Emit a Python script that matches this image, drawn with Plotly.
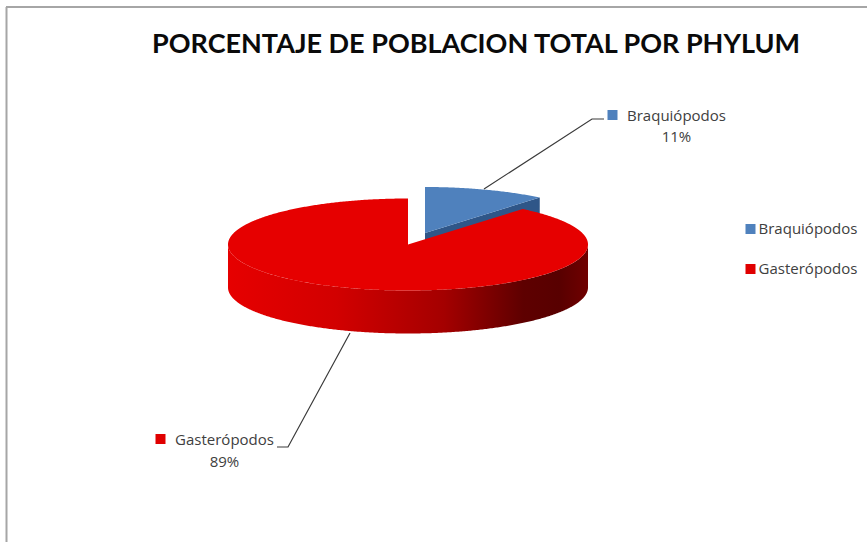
import numpy as np
import plotly.graph_objects as go

# Chart content
TITLE = "PORCENTAJE DE POBLACION TOTAL POR PHYLUM"
categories = ["Braquiópodos", "Gasterópodos"]
shares = [11, 89]

# Colours
BLUE_TOP = "#4f81bd"
BLUE_CUT = "#2f5688"
RED_TOP = "#e60000"
TEXT = "#404040"
FRAME = "#a6a6a6"
RED_SIDE_SCALE = [
    [0.00, "#e60000"],
    [0.30, "#d20000"],
    [0.60, "#a40000"],
    [0.82, "#5e0000"],
    [0.92, "#580000"],
    [1.00, "#700000"],
]

# Layout of the tilted pie, in canvas units
RX, RY, DEPTH = 180, 46, 43
RED_CENTRE = (408, 244.5)
BLUE_CENTRE = (425, 233)

LABEL_FONT = "Open Sans"
TITLE_FONT = "Lato"


def rim(centre, start, stop, drop=0):
    """Points along the ellipse; angles are degrees clockwise from the top."""
    theta = np.radians(np.linspace(start, stop, max(int(abs(stop - start)) * 2, 2)))
    return (centre[0] + RX * np.sin(theta), centre[1] - RY * np.cos(theta) + drop)


def wedge(centre, start, stop):
    xs, ys = rim(centre, start, stop)
    return np.r_[centre[0], xs, centre[0]], np.r_[centre[1], ys, centre[1]]


split = 360 * shares[0] / sum(shares)
fig = go.Figure()

# Cut face of the pulled-out blue slice, behind everything else
tip_x, tip_y = rim(BLUE_CENTRE, split, split)
fig.add_trace(go.Scatter(
    x=[BLUE_CENTRE[0], tip_x[0], tip_x[0], BLUE_CENTRE[0], BLUE_CENTRE[0]],
    y=[BLUE_CENTRE[1], tip_y[0], tip_y[0] + DEPTH, BLUE_CENTRE[1] + DEPTH, BLUE_CENTRE[1]],
    fill="toself", fillcolor=BLUE_CUT, mode="none", hoverinfo="skip",
))

# Blue top face
bx, by = wedge(BLUE_CENTRE, 0, split)
fig.add_trace(go.Scatter(x=bx, y=by, fill="toself", fillcolor=BLUE_TOP, mode="none",
                         name=categories[0]))

# Front wall of the red slice, shaded from left to right
top_x, top_y = rim(RED_CENTRE, 90, 270)
low_x, low_y = rim(RED_CENTRE, 270, 90, DEPTH)
fig.add_trace(go.Scatter(
    x=np.r_[top_x, low_x, top_x[0]], y=np.r_[top_y, low_y, top_y[0]],
    fill="toself", mode="none", hoverinfo="skip",
    fillgradient=dict(type="horizontal", colorscale=RED_SIDE_SCALE),
))

# Red top face
rx_, ry_ = wedge(RED_CENTRE, split, 360)
fig.add_trace(go.Scatter(x=rx_, y=ry_, fill="toself", fillcolor=RED_TOP, mode="none",
                         name=categories[1]))

# Leader lines
for lx, ly in ([484, 592, 604], [189, 119, 119]), ([350, 288, 277], [333, 447, 447]):
    fig.add_trace(go.Scatter(x=lx, y=ly, mode="lines", hoverinfo="skip",
                             line=dict(color="#3a3a3a", width=1.2)))

# Key swatches: the two data labels, then the key on the right
swatch_x = [612.5, 160.5, 750.5, 750.5]
swatch_y = [115, 439, 229, 269]
swatch_c = [BLUE_TOP, "#e00000", BLUE_TOP, "#e00000"]
fig.add_trace(go.Scatter(x=swatch_x, y=swatch_y, mode="markers", hoverinfo="skip",
                         marker=dict(symbol="square", size=10, color=swatch_c, opacity=1,
                                     line=dict(width=0))))

# Text of the data labels and the key
label_x = [676.5, 676.5, 224.5, 224.5, 808, 808]
label_y = [117, 138, 441, 463, 230, 270]
label_t = [categories[0], f"{shares[0]}%", categories[1], f"{shares[1]}%", categories[0], categories[1]]
fig.add_trace(go.Scatter(x=label_x, y=label_y, mode="text", text=label_t, textposition="middle center",
                         hoverinfo="skip", textfont=dict(family=LABEL_FONT, size=15, color=TEXT)))

fig.update_layout(
    width=867, height=542, autosize=False,
    margin=dict(l=0, r=0, t=0, b=0),
    paper_bgcolor="white", plot_bgcolor="white",
    showlegend=False,
    title=dict(text=f"<b>{TITLE}</b>", x=476 / 867, xanchor="center", y=1 - 44 / 542, yanchor="middle",
               font=dict(family=TITLE_FONT, size=27, color="#0a0a0a")),
    xaxis=dict(range=[0, 867], visible=False, fixedrange=True),
    yaxis=dict(range=[542, 0], visible=False, fixedrange=True),
    shapes=[
        dict(type="line", xref="x", yref="y", x0=6.5, x1=6.5, y0=7, y1=542, line=dict(color=FRAME, width=2)),
        dict(type="line", xref="x", yref="y", x0=6, x1=867, y0=7, y1=7, line=dict(color=FRAME, width=2)),
    ],
)

fig.write_html("out.html")
